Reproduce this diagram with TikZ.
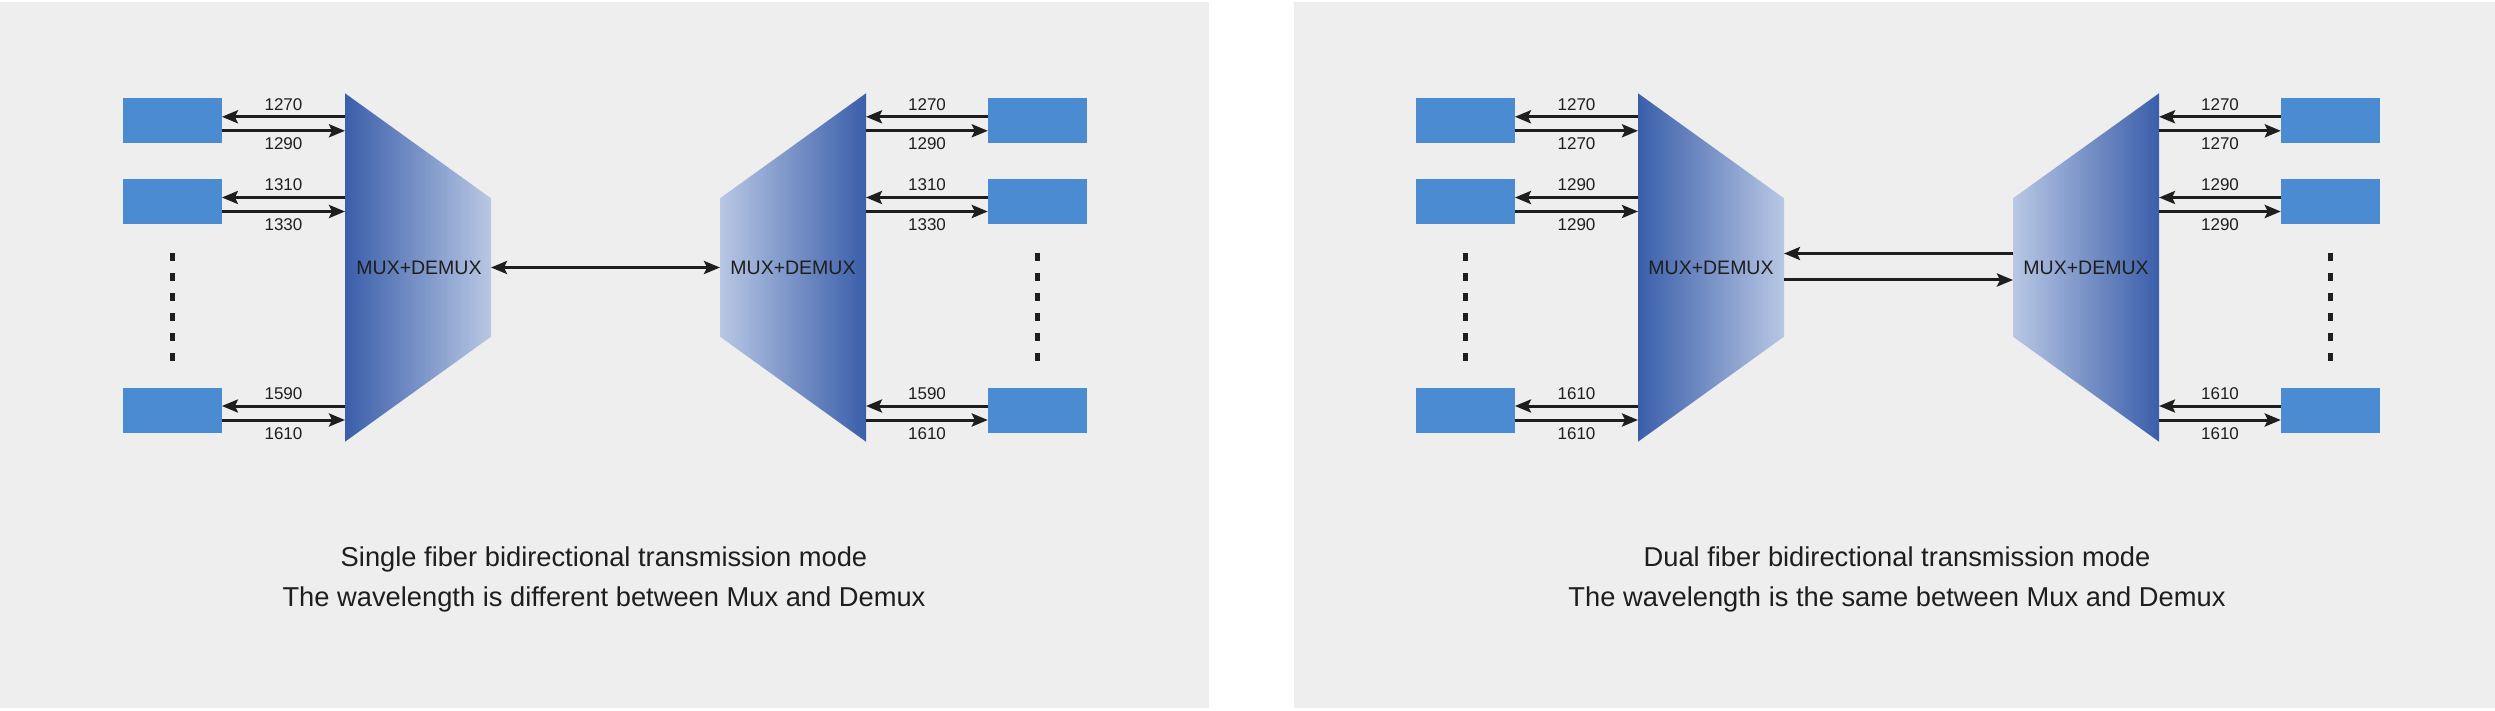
\documentclass[tikz,border=0pt]{standalone}
\usepackage{fontspec}
\setmainfont{Liberation Sans}
\usetikzlibrary{arrows.meta}
\definecolor{panelgray}{RGB}{238,238,238}
\definecolor{boxblue}{RGB}{74,139,209}
\definecolor{muxdark}{RGB}{58,94,170}
\definecolor{muxlight}{RGB}{184,199,228}
\definecolor{txt}{RGB}{30,30,30}
\begin{document}
\begin{tikzpicture}[x=1pt,y=-1pt,
  box/.style={fill=boxblue, draw=none, minimum width=99pt, minimum height=45pt, inner sep=0pt},
  arr/.style={draw=txt, line width=3pt, -{Stealth[length=16pt,width=13pt,inset=3pt]}},
  biarr/.style={draw=txt, line width=3pt, {Stealth[length=16pt,width=13pt,inset=3pt]}-{Stealth[length=16pt,width=13pt,inset=3pt]}},
  wl/.style={font=\fontsize{17}{18}\selectfont, text=txt, inner sep=0pt, anchor=base},
  muxlabel/.style={font=\fontsize{19.5}{21}\selectfont, text=txt, inner sep=0pt, anchor=base},
  caption/.style={font=\fontsize{27.3}{30}\selectfont, text=txt, inner sep=0pt, anchor=base},
  dotsline/.style={draw=txt, line width=5pt, dash pattern=on 8pt off 12pt}]
\useasboundingbox (0,0) rectangle (2495,711);
\fill[white] (0,0) rectangle (2495,711);
\fill[panelgray] (0,2) rectangle (1209,708);
\fill[panelgray] (1294,2) rectangle (2495,708);

% ---------- left panel: single fiber ----------
\begin{scope}
\shade[left color=muxdark, right color=muxlight] (345,93.3) -- (491,198.3) -- (491,336.7) -- (345,441.7) -- cycle;
\shade[left color=muxlight, right color=muxdark] (866,93.3) -- (720,198.3) -- (720,336.7) -- (866,441.7) -- cycle;
\node[muxlabel] (aML) at (419,274.3) {MUX+DEMUX};
\node[muxlabel] (aMR) at (793,274.3) {MUX+DEMUX};
\coordinate (aC1) at (491,267.5);
\coordinate (aC2) at (720,267.5);
\draw[biarr] (aC1) -- (aC2);
\foreach \i/\c/\la/\lb in {1/120.8/1270/1290, 2/201.5/1310/1330, 3/410/1590/1610} {
  \node[box] (aL\i) at (172.2,\c) {};
  \node[box] (aR\i) at (1037.5,\c) {};
  \coordinate (aLu\i) at (345,{\c-4});
  \coordinate (aLd\i) at (345,{\c+10});
  \coordinate (aRu\i) at (866,{\c-4});
  \coordinate (aRd\i) at (866,{\c+10});
  \draw[arr] (aLu\i) -- (aLu\i -| aL\i.east);
  \draw[arr] (aLd\i -| aL\i.east) -- (aLd\i);
  \draw[arr] (aRu\i -| aR\i.west) -- (aRu\i);
  \draw[arr] (aRd\i) -- (aRd\i -| aR\i.west);
  \node[wl] (aLa\i) at (283.5,{\c-10.7}) {\la};
  \node[wl] (aLb\i) at (283.5,{\c+29}) {\lb};
  \node[wl] (aRa\i) at (927,{\c-10.7}) {\la};
  \node[wl] (aRb\i) at (927,{\c+29}) {\lb};
}
\coordinate (aDL1) at (172.2,253);
\coordinate (aDL2) at (172.2,361);
\draw[dotsline] (aDL1) -- (aDL2);
\coordinate (aDR1) at (1037.5,253);
\coordinate (aDR2) at (1037.5,361);
\draw[dotsline] (aDR1) -- (aDR2);
\node[caption] (aT1) at (604,566.3) {Single fiber bidirectional transmission mode};
\node[caption] (aT2) at (604,606.5) {The wavelength is different between Mux and Demux};
\end{scope}

% ---------- right panel: dual fiber ----------
\begin{scope}[xshift=1293pt]
\shade[left color=muxdark, right color=muxlight] (345,93.3) -- (491,198.3) -- (491,336.7) -- (345,441.7) -- cycle;
\shade[left color=muxlight, right color=muxdark] (866,93.3) -- (720,198.3) -- (720,336.7) -- (866,441.7) -- cycle;
\node[muxlabel] (bML) at (418,274.3) {MUX+DEMUX};
\node[muxlabel] (bMR) at (793,274.3) {MUX+DEMUX};
\coordinate (bC1) at (491,253.5);
\coordinate (bC2) at (720,253.5);
\coordinate (bC3) at (491,280);
\coordinate (bC4) at (720,280);
\draw[arr] (bC2) -- (bC1);
\draw[arr] (bC3) -- (bC4);
\foreach \i/\c/\la/\lb in {1/120.8/1270/1270, 2/201.5/1290/1290, 3/410/1610/1610} {
  \node[box] (bL\i) at (172.2,\c) {};
  \node[box] (bR\i) at (1037.5,\c) {};
  \coordinate (bLu\i) at (345,{\c-4});
  \coordinate (bLd\i) at (345,{\c+10});
  \coordinate (bRu\i) at (866,{\c-4});
  \coordinate (bRd\i) at (866,{\c+10});
  \draw[arr] (bLu\i) -- (bLu\i -| bL\i.east);
  \draw[arr] (bLd\i -| bL\i.east) -- (bLd\i);
  \draw[arr] (bRu\i -| bR\i.west) -- (bRu\i);
  \draw[arr] (bRd\i) -- (bRd\i -| bR\i.west);
  \node[wl] (bLa\i) at (283.5,{\c-10.7}) {\la};
  \node[wl] (bLb\i) at (283.5,{\c+29}) {\lb};
  \node[wl] (bRa\i) at (927,{\c-10.7}) {\la};
  \node[wl] (bRb\i) at (927,{\c+29}) {\lb};
}
\coordinate (bDL1) at (172.2,253);
\coordinate (bDL2) at (172.2,361);
\draw[dotsline] (bDL1) -- (bDL2);
\coordinate (bDR1) at (1037.5,253);
\coordinate (bDR2) at (1037.5,361);
\draw[dotsline] (bDR1) -- (bDR2);
\node[caption] (bT1) at (604,566.3) {Dual fiber bidirectional transmission mode};
\node[caption] (bT2) at (604,606.5) {The wavelength is the same between Mux and Demux};
\end{scope}
\end{tikzpicture}
\end{document}
